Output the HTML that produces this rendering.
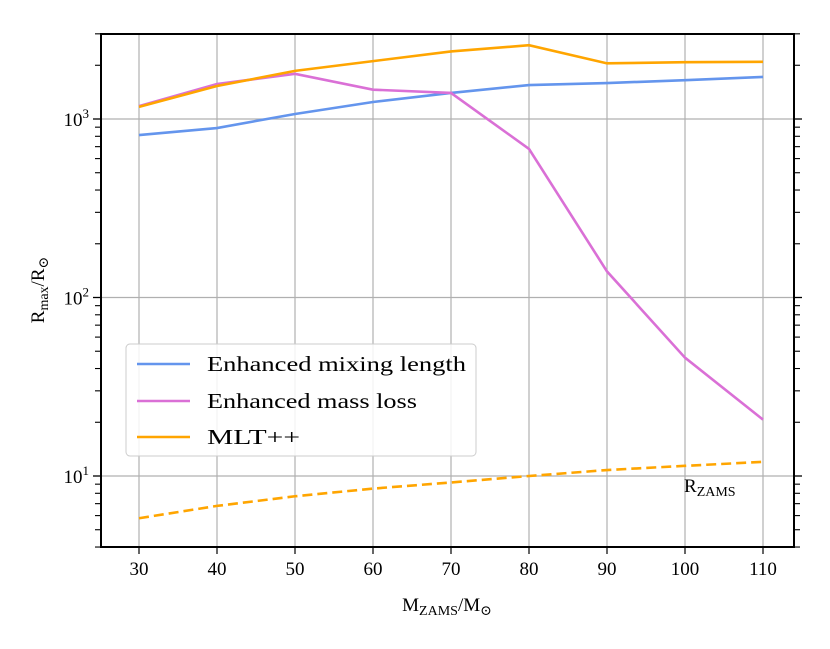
<!DOCTYPE html>
<html><head><meta charset="utf-8"><style>
body{margin:0;background:#fff;}
svg text{font-family:"Liberation Serif","DejaVu Serif",serif;fill:#000;}
</style></head><body>
<svg id="chart" width="830" height="644" xmlns="http://www.w3.org/2000/svg">
<g id="grid"></g>
<g id="series"></g>
<g id="axes"></g>
</svg>
<script>
const masses=[30,40,50,60,70,80,90,100,110];
const mixing=[813,890,1067,1245,1400,1550,1590,1650,1720];
const massLoss=[1180,1570,1790,1460,1400,680,140,46,20.7];
const mltpp=[1170,1530,1860,2110,2390,2590,2050,2080,2090];
const rzams=[5.8,6.8,7.7,8.5,9.2,10,10.8,11.4,12];
const xTicks=[30,40,50,60,70,80,90,100,110];
const yMajor=[10,100,1000];
const yLabels=["1","2","3"];

const L=101,R=794,T=34,B=547;
const x=v=>139+(v-30)*7.8;
const y=v=>476-(Math.log10(v)-1)*178.5;
const NS="http://www.w3.org/2000/svg";
function mk(tag,attrs,parent){const e=document.createElementNS(NS,tag);for(const k in attrs)e.setAttribute(k,attrs[k]);parent.appendChild(e);return e;}
const grid=document.getElementById('grid'),series=document.getElementById('series'),axes=document.getElementById('axes');

xTicks.forEach(t=>{
  const g=mk('line',{x1:x(t),x2:x(t),y1:T,y2:B,stroke:'#b0b0b0','stroke-width':1.2},grid);
  
  
  const tk=mk('line',{x1:x(t),x2:x(t),y1:B,y2:B+7,stroke:'#000','stroke-width':1.2},axes);
  
  
  const lb=mk('text',{x:x(t),y:B+28,'text-anchor':'middle','font-size':19},axes);
  lb.textContent=t;
  
  
});
yMajor.forEach((t,i)=>{
  const g=mk('line',{x1:L,x2:R,y1:y(t),y2:y(t),stroke:'#b0b0b0','stroke-width':1.2},grid);
  
  
  [[L-8,L],[R,R+8]].forEach(p=>{
    const tk=mk('line',{x1:p[0],x2:p[1],y1:y(t),y2:y(t),stroke:'#000','stroke-width':1.3},axes);
    
    
  });
  const lb=mk('text',{x:L-12,y:y(t)+7,'text-anchor':'end','font-size':19},axes);
  lb.innerHTML='10<tspan dy="-8" font-size="13">'+yLabels[i]+'</tspan>';
  
  
});
[1,10,100,1000].forEach(d=>{for(let m=2;m<=9;m++){const v=d*m;if(v<4||v>3000)continue;
  [[L-6,L],[R,R+6]].forEach(p=>{
    const tk=mk('line',{x1:p[0],x2:p[1],y1:y(v),y2:y(v),stroke:'#000','stroke-width':1.1},axes);
    
    
  });}});
const frame=mk('rect',{x:L,y:T,width:R-L,height:B-T,fill:'none',stroke:'#000','stroke-width':2},axes);



function line(data,color,name,dash){
  const p=mk('polyline',{points:data.map((v,i)=>x(masses[i])+','+y(v)).join(' '),fill:'none',stroke:color,'stroke-width':2.6},series);
  if(dash)p.setAttribute('stroke-dasharray','10,5');
  
  
}
line(mixing,'#6495ed','enhanced-mixing-length-line');
line(massLoss,'#da70d6','enhanced-mass-loss-line');
line(mltpp,'#ffa500','mltpp-line');
line(rzams,'#ffa500','rzams-line',true);

const rz=mk('text',{x:684,y:492,'font-size':19},axes);
rz.innerHTML='R<tspan dy="4" font-size="14">ZAMS</tspan>';



const xl=mk('text',{x:447,y:611,'text-anchor':'middle','font-size':19},axes);
xl.innerHTML='M<tspan dy="4" font-size="14">ZAMS</tspan><tspan dy="-4">/M</tspan><tspan dy="4" font-size="14">⊙</tspan>';


const yl=mk('text',{transform:'translate(44,290) rotate(-90)','text-anchor':'middle','font-size':19},axes);
yl.innerHTML='R<tspan dy="4" font-size="14">max</tspan><tspan dy="-4">/R</tspan><tspan dy="4" font-size="14">⊙</tspan>';



const lg=mk('g',{},axes);


mk('rect',{x:126,y:344,width:350,height:112,rx:4,fill:'#fff','fill-opacity':0.85,stroke:'#ccc','stroke-width':1},lg);
[['Enhanced mixing length','#6495ed',364,259],['Enhanced mass loss','#da70d6',401,210],['MLT++','#ffa500',437,93]].forEach(e=>{
  const ln=mk('line',{x1:137,x2:190,y1:e[2],y2:e[2],stroke:e[1],'stroke-width':2.6},lg);
  
  
  const t=mk('text',{x:207,y:e[2]+7,'font-size':21,textLength:e[3],lengthAdjust:'spacingAndGlyphs'},lg);
  t.textContent=e[0];
  
  
});
</script>
</body></html>
